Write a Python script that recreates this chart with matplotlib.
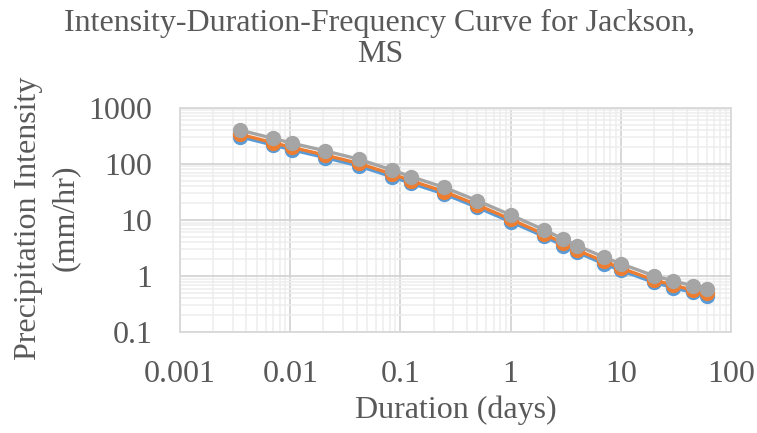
import matplotlib
matplotlib.use("Agg")
import matplotlib.pyplot as plt
from matplotlib.ticker import LogLocator, FixedLocator, FixedFormatter, NullFormatter

durations_days = [0.00347, 0.00694, 0.0104, 0.0208, 0.0417, 0.0833, 0.125, 0.25, 0.5,
                  1, 2, 3, 4, 7, 10, 20, 30, 45, 60]
series_blue = [305, 217, 177, 129, 92, 59, 45, 29, 16.7, 9.3, 5.1, 3.5, 2.66, 1.66, 1.26,
               0.77, 0.62, 0.51, 0.45]
series_orange = [337, 239, 196, 143, 102, 66, 50, 32, 18.5, 10.3, 5.6, 3.9, 2.9, 1.83, 1.39,
                 0.85, 0.69, 0.56, 0.50]
series_gray = [401, 285, 233, 170, 121, 78, 59, 38, 22, 12.3, 6.7, 4.6, 3.5, 2.18, 1.66,
               1.01, 0.82, 0.67, 0.59]
x_ticks = [0.001, 0.01, 0.1, 1, 10, 100]
x_labels = ["0.001", "0.01", "0.1", "1", "10", "100"]
y_ticks = [0.1, 1, 10, 100, 1000]
y_labels = ["0.1", "1", "10", "100", "1000"]

plt.rcParams['font.family'] = ['Liberation Serif', 'DejaVu Serif']
W, H = 757, 433
TXT = '#595959'
fig = plt.figure(figsize=(W / 100, H / 100), dpi=100)
ax = fig.add_axes([180 / W, 1 - 332.2 / H, (731 - 180) / W, (332.2 - 107.7) / H])
ax.set_xscale('log')
ax.set_yscale('log')
ax.set_xlim(0.001, 100)
ax.set_ylim(0.1, 1000)

for ys, c in [(series_blue, '#5B9BD5'), (series_orange, '#ED7D31'), (series_gray, '#A5A5A5')]:
    ax.plot(durations_days, ys, color=c, lw=2.4, marker='o', ms=10, mec=c, mfc=c, zorder=3)

ax.xaxis.set_major_locator(FixedLocator(x_ticks))
ax.xaxis.set_major_formatter(FixedFormatter(x_labels))
ax.yaxis.set_major_locator(FixedLocator(y_ticks))
ax.yaxis.set_major_formatter(FixedFormatter(y_labels))
ax.xaxis.set_minor_locator(LogLocator(base=10, subs=range(2, 10), numticks=20))
ax.yaxis.set_minor_locator(LogLocator(base=10, subs=range(2, 10), numticks=20))
ax.xaxis.set_minor_formatter(NullFormatter())
ax.yaxis.set_minor_formatter(NullFormatter())
ax.grid(which='minor', color='#EDEDED', lw=1.1, zorder=0)
ax.grid(which='major', color='#D4D4D4', lw=1.3, zorder=1)
ax.set_axisbelow(True)
ax.tick_params(which='both', length=0, labelsize=23, colors=TXT)
ax.tick_params(axis='x', pad=20)
ax.tick_params(axis='y', pad=20)
for s in ax.spines.values():
    s.set_color('#D9D9D9')
    s.set_linewidth(1.3)

fig.text(455.5 / W, 1 - 410 / H, 'Duration (days)', ha='center', va='center', fontsize=23, color=TXT)
fig.text(47 / W, 1 - 218 / H, 'Precipitation Intensity\n(mm/hr)', ha='center', va='center',
         rotation=90, fontsize=23, color=TXT, linespacing=1.32, multialignment='center')
fig.text(380 / W, 1 - 39 / H, 'Intensity-Duration-Frequency Curve for Jackson,\nMS', ha='center',
         va='center', fontsize=23, color=TXT, linespacing=1.12)

fig.savefig('out.png', dpi=100)
